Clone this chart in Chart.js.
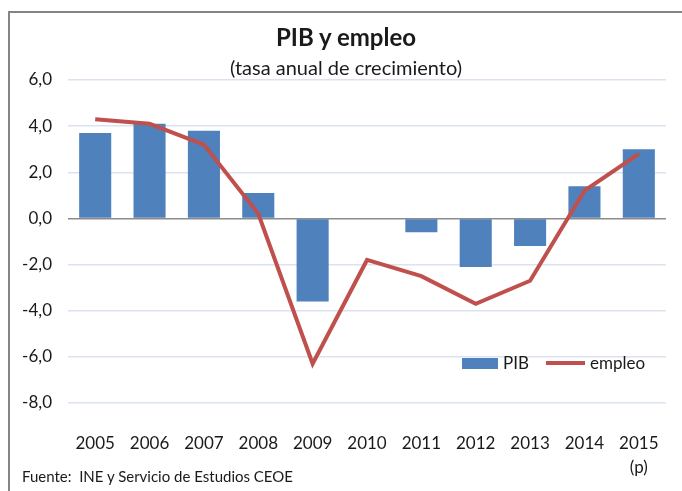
<!DOCTYPE html>
<html>
<head>
<meta charset="utf-8">
<script src="https://cdn.jsdelivr.net/npm/chart.js@4"></script>
<style>
    html, body { margin: 0; padding: 0; background: #fff; overflow: hidden; }
    #wrap { position: relative; width: 682px; height: 491px; overflow: hidden; font-family: Lato, sans-serif; color: #1a1a1a; }
    #frame { position: absolute; left: 8px; top: 11px; width: 700px; height: 520px; border: 2px solid #858585; box-sizing: border-box; }
    #myChart { position: absolute; left: 0; top: 0; }
    .head { position: absolute; left: 26px; width: 640px; text-align: center; white-space: nowrap; }
    #title { top: 22px; font-size: 24px; font-weight: bold; line-height: 29px; }
    #subtitle { top: 55px; font-size: 20px; line-height: 24px; }
    #source { position: absolute; left: 22px; top: 467px; font-size: 15px; white-space: pre; }
</style>
</head>
<body>
<div id="wrap">
    <div id="frame"></div>
    <canvas id="myChart" width="682" height="491"></canvas>
    <div class="head" id="title">PIB y empleo</div>
    <div class="head" id="subtitle">(tasa anual de crecimiento)</div>
    <div id="source">Fuente:  INE y Servicio de Estudios CEOE</div>
</div>
<script>
const years = ['2005', '2006', '2007', '2008', '2009', '2010', '2011', '2012', '2013', '2014', ['2015', '(p)']];
const pib = [3.7, 4.1, 3.8, 1.1, -3.6, 0.0, -0.6, -2.1, -1.2, 1.4, 3.0];
const empleo = [4.3, 4.1, 3.2, 0.2, -6.3, -1.8, -2.5, -3.7, -2.7, 1.2, 2.8];
const yTicks = [-8, -6, -4, -2, 0, 2, 4, 6];

const font = 'Lato, sans-serif';
const textColor = '#1a1a1a';

// legend drawn inside the plot area, lower right
const innerLegend = {
    id: 'innerLegend',
    afterDatasetsDraw(chart) {
        const c = chart.ctx;
        const area = chart.chartArea;
        const ds = chart.data.datasets;
        const y = area.bottom - 40;
        let x = area.right - 204;
        c.save();
        c.font = '17px ' + font;
        c.textBaseline = 'middle';
        c.fillStyle = ds[0].backgroundColor;
        c.fillRect(x, y - 5, 36, 11);
        c.fillStyle = textColor;
        c.fillText(ds[0].label, x + 41, y + 1);
        x += 84;
        c.strokeStyle = ds[1].borderColor;
        c.lineWidth = 4;
        c.beginPath();
        c.moveTo(x, y);
        c.lineTo(x + 39, y);
        c.stroke();
        c.fillText(ds[1].label, x + 44, y + 1);
        c.restore();
    }
};

const ctx = document.getElementById('myChart');

new Chart(ctx, {
    type: 'bar',
    data: {
        labels: years,
        datasets: [{
            label: 'PIB',
            data: pib,
            backgroundColor: '#4f81bd',
            barPercentage: 0.59,
            categoryPercentage: 1,
            order: 2
        }, {
            type: 'line',
            label: 'empleo',
            data: empleo,
            borderColor: '#c0504d',
            backgroundColor: '#c0504d',
            borderWidth: 4,
            pointRadius: 0,
            tension: 0,
            order: 1
        }]
    },
    options: {
        responsive: false,
        animation: false,
        layout: { padding: { left: 0, right: 16, top: 80, bottom: 0 } },
        plugins: {
            legend: { display: false },
            tooltip: { enabled: false }
        },
        scales: {
            x: {
                grid: { display: false },
                border: { display: false },
                ticks: {
                    color: textColor,
                    font: { family: font, size: 17, lineHeight: 1.45 },
                    padding: 20,
                    maxRotation: 0,
                    autoSkip: false
                },
                afterFit(scale) { scale.height = 88; }
            },
            y: {
                min: yTicks[0],
                max: yTicks[yTicks.length - 1],
                afterBuildTicks(scale) { scale.ticks = yTicks.map(v => ({ value: v })); },
                grid: {
                    drawTicks: false,
                    lineWidth: 1.5,
                    color: (c) => c.tick && c.tick.value === 0 ? '#8c8c8c' : '#dbe3f0'
                },
                border: { display: false },
                ticks: {
                    color: textColor,
                    font: { family: font, size: 17 },
                    padding: 16,
                    callback: (v) => v.toFixed(1).replace('.', ',')
                },
                afterFit(scale) { scale.width = 68; }
            }
        }
    },
    plugins: [innerLegend]
});
</script>
</body>
</html>
